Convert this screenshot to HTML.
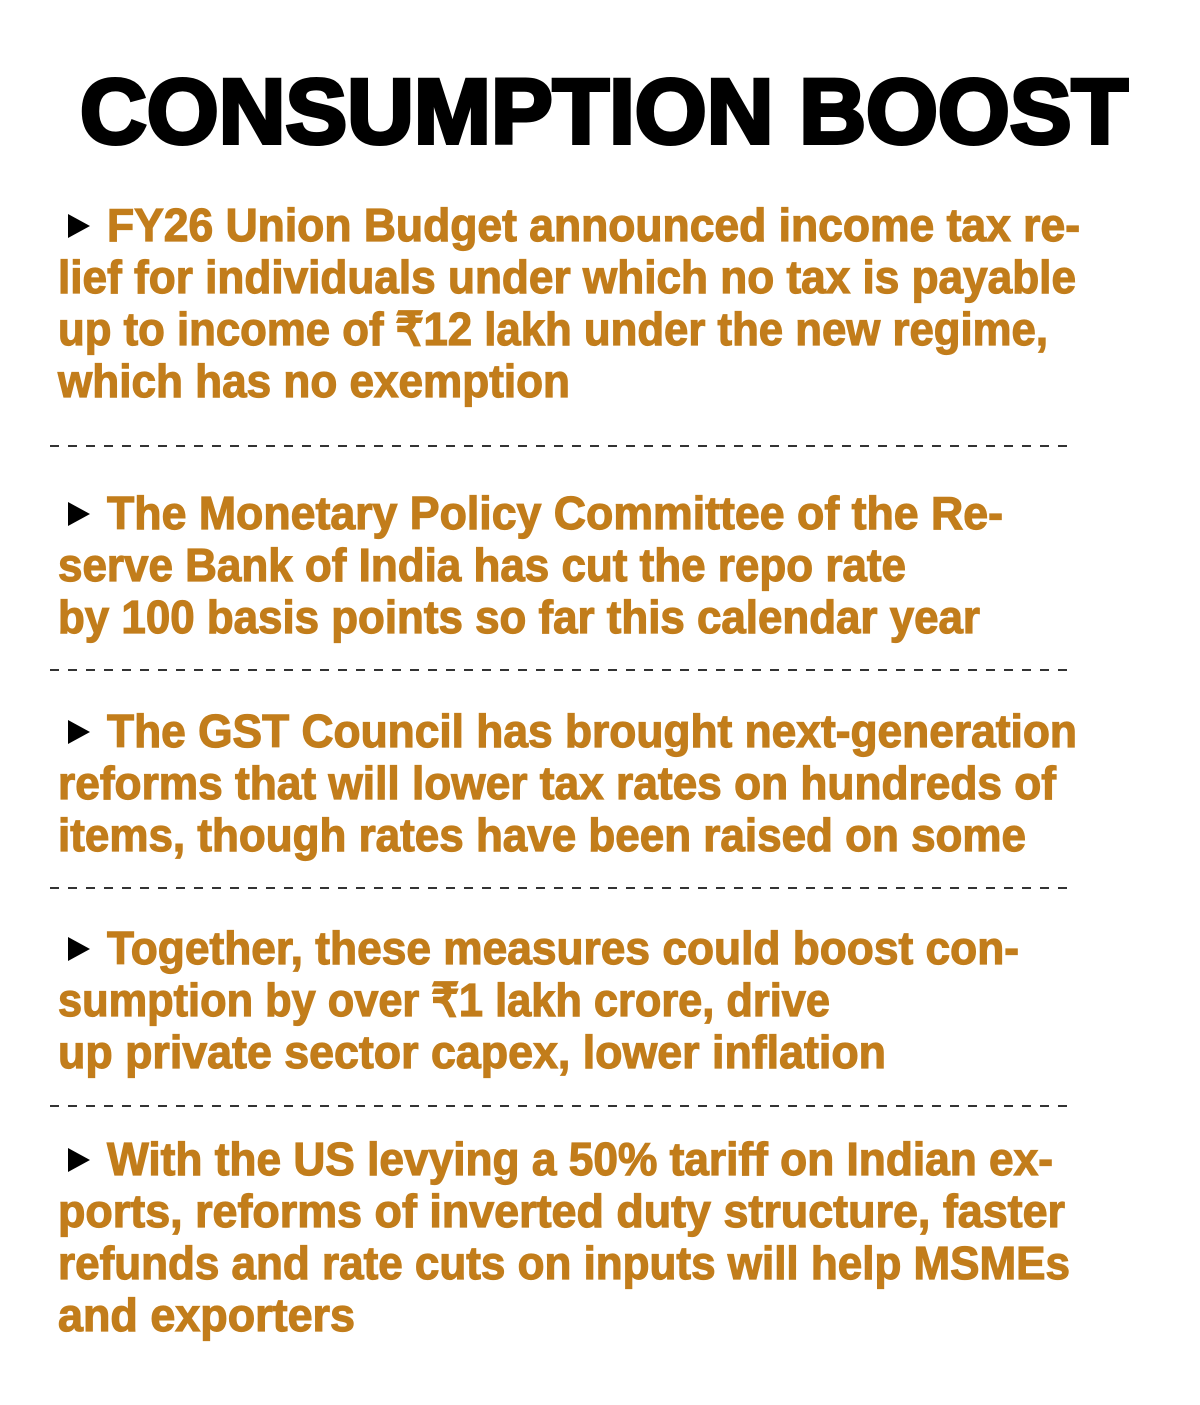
<!DOCTYPE html>
<html><head><meta charset="utf-8"><style>
html,body{margin:0;padding:0;background:#fff;width:1200px;height:1405px;overflow:hidden}
svg{display:block}
.t{font-family:"Liberation Sans",sans-serif;font-weight:bold;font-size:46px;fill:#c27d1b;stroke:#c27d1b;stroke-width:1.2px}
.h{font-family:"Liberation Sans",sans-serif;font-weight:bold;font-size:92px;fill:#000;stroke:#000;stroke-width:4px}
.d{stroke:#333;stroke-width:2;stroke-dasharray:9 9}
</style></head><body>
<svg width="1200" height="1405" viewBox="0 0 1200 1405">
<text class="h" x="80" y="143" textLength="1048" lengthAdjust="spacingAndGlyphs">CONSUMPTION BOOST</text>

<g>
<polygon points="68,214 90,226 68,238" fill="#000"/>
<text class="t" x="107" y="241" textLength="973" lengthAdjust="spacingAndGlyphs">FY26 Union Budget announced income tax re-</text>
<text class="t" x="58" y="293" textLength="1018" lengthAdjust="spacingAndGlyphs">lief for individuals under which no tax is payable</text>
<text class="t" x="58" y="345" textLength="990" lengthAdjust="spacingAndGlyphs">up to income of ₹12 lakh under the new regime,</text>
<text class="t" x="58" y="397" textLength="512" lengthAdjust="spacingAndGlyphs">which has no exemption</text>
</g>
<line class="d" x1="50" y1="446" x2="1072" y2="446"/>

<g>
<polygon points="68,502 90,514 68,526" fill="#000"/>
<text class="t" x="107" y="529" textLength="896" lengthAdjust="spacingAndGlyphs">The Monetary Policy Committee of the Re-</text>
<text class="t" x="58" y="581" textLength="848" lengthAdjust="spacingAndGlyphs">serve Bank of India has cut the repo rate</text>
<text class="t" x="58" y="633" textLength="922" lengthAdjust="spacingAndGlyphs">by 100 basis points so far this calendar year</text>
</g>
<line class="d" x1="50" y1="670" x2="1072" y2="670"/>

<g>
<polygon points="68,720 90,732 68,744" fill="#000"/>
<text class="t" x="107" y="747" textLength="970" lengthAdjust="spacingAndGlyphs">The GST Council has brought next-generation</text>
<text class="t" x="58" y="799" textLength="998" lengthAdjust="spacingAndGlyphs">reforms that will lower tax rates on hundreds of</text>
<text class="t" x="58" y="851" textLength="968" lengthAdjust="spacingAndGlyphs">items, though rates have been raised on some</text>
</g>
<line class="d" x1="50" y1="888" x2="1072" y2="888"/>

<g>
<polygon points="68,937 90,949 68,961" fill="#000"/>
<text class="t" x="107" y="964" textLength="912" lengthAdjust="spacingAndGlyphs">Together, these measures could boost con-</text>
<text class="t" x="58" y="1016" textLength="772" lengthAdjust="spacingAndGlyphs">sumption by over ₹1 lakh crore, drive</text>
<text class="t" x="58" y="1068" textLength="828" lengthAdjust="spacingAndGlyphs">up private sector capex, lower inflation</text>
</g>
<line class="d" x1="50" y1="1106" x2="1072" y2="1106"/>

<g>
<polygon points="68,1148 90,1160 68,1172" fill="#000"/>
<text class="t" x="107" y="1175" textLength="946" lengthAdjust="spacingAndGlyphs">With the US levying a 50% tariff on Indian ex-</text>
<text class="t" x="58" y="1227" textLength="1007" lengthAdjust="spacingAndGlyphs">ports, reforms of inverted duty structure, faster</text>
<text class="t" x="58" y="1279" textLength="1012" lengthAdjust="spacingAndGlyphs">refunds and rate cuts on inputs will help MSMEs</text>
<text class="t" x="58" y="1331" textLength="297" lengthAdjust="spacingAndGlyphs">and exporters</text>
</g>
</svg>
</body></html>
